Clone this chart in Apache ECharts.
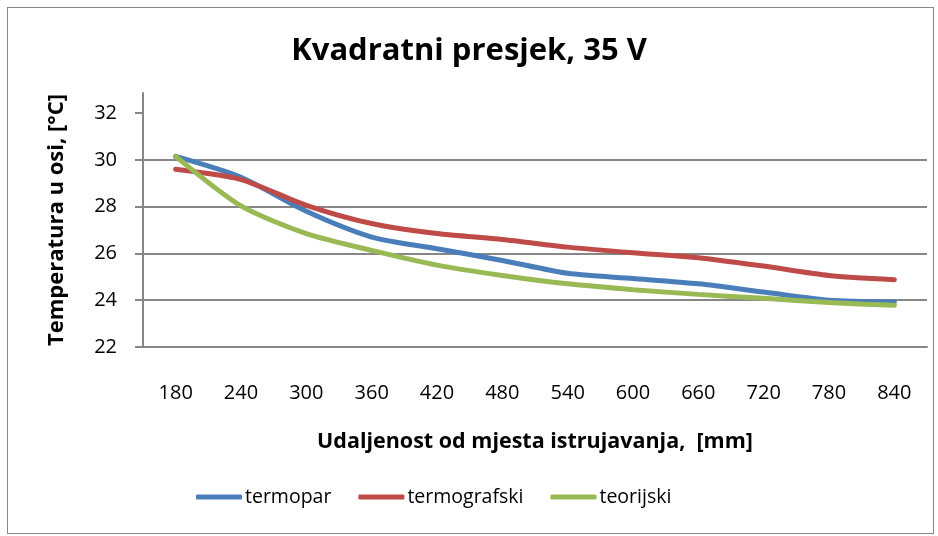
<!DOCTYPE html>
<html>
<head>
<meta charset="utf-8">
<script src="https://cdn.jsdelivr.net/npm/echarts@6/dist/echarts.min.js"></script>
<style>
  html, body { margin: 0; padding: 0; background: #fff; }
  #frame { position: absolute; left: 7px; top: 7px; width: 927px; height: 527px; border: 1px solid #868686; box-sizing: border-box; }
  #chart { position: absolute; left: 0; top: 0; width: 938px; height: 536px; }
</style>
</head>
<body>
<div id="frame"></div>
<div id="chart"></div>
<script>
const categories = ['180', '240', '300', '360', '420', '480', '540', '600', '660', '720', '780', '840']
const termopar = [30.15, 29.26, 27.8, 26.7, 26.2, 25.7, 25.15, 24.93, 24.7, 24.35, 24.0, 23.92]
const termografski = [29.6, 29.16, 28.06, 27.28, 26.85, 26.6, 26.27, 26.03, 25.82, 25.46, 25.06, 24.88]
const teorijski = [30.15, 28.03, 26.85, 26.13, 25.5, 25.06, 24.7, 24.45, 24.25, 24.08, 23.9, 23.78]
const yTicks = [22, 24, 26, 28, 30, 32]

const font = '"Open Sans", sans-serif'
const gridGray = '#868686'

const chart = echarts.init(document.getElementById('chart'))

const lineSeries = (name, data, color) => ({
  name,
  type: 'line',
  data,
  smooth: 0.25,
  symbol: 'none',
  lineStyle: { width: 5, color, cap: 'round' },
  itemStyle: { color },
  emphasis: { disabled: true }
})

chart.setOption({
  animation: false,
  title: {
    text: 'Kvadratni presjek, 35 V',
    left: 'center',
    top: 31,
    textStyle: { fontFamily: font, fontSize: 31, fontWeight: 'bold', color: '#000' }
  },
  legend: {
    bottom: 24,
    left: 191,
    icon: 'roundRect',
    itemWidth: 46,
    itemHeight: 5,
    itemGap: 27,
    textStyle: { fontFamily: font, fontSize: 19.5, color: '#000', padding: [0, 0, 0, -2] },
    data: ['termopar', 'termografski', 'teorijski']
  },
  grid: { left: 143, right: 11, top: 93, bottom: 189 },
  xAxis: {
    type: 'category',
    data: categories,
    boundaryGap: true,
    name: 'Udaljenost od mjesta istrujavanja,  [mm]',
    nameLocation: 'middle',
    nameGap: 84,
    nameTextStyle: { fontFamily: font, fontSize: 21.5, fontWeight: 'bold', color: '#000' },
    axisLine: { lineStyle: { color: gridGray, width: 2 } },
    axisTick: { show: false },
    axisLabel: { fontFamily: font, fontSize: 20, color: '#000', margin: 36 }
  },
  yAxis: {
    type: 'value',
    min: 22,
    max: 32.86,
    name: 'Temperatura u osi, [°C]',
    nameLocation: 'middle',
    nameGap: 75,
    nameTextStyle: { fontFamily: font, fontSize: 22, fontWeight: 'bold', color: '#000' },
    axisLine: { show: true, lineStyle: { color: gridGray, width: 2 } },
    axisTick: { show: true, length: 8, customValues: yTicks, lineStyle: { color: gridGray, width: 2 } },
    axisLabel: { fontFamily: font, fontSize: 20, color: '#000', margin: 26, customValues: yTicks },
    splitLine: { show: true, showMaxLine: false, lineStyle: { color: gridGray, width: 2 } }
  },
  series: [
    lineSeries('termopar', termopar, '#4a7ebb'),
    lineSeries('termografski', termografski, '#be4b48'),
    lineSeries('teorijski', teorijski, '#98b954')
  ]
})
</script>
</body>
</html>
